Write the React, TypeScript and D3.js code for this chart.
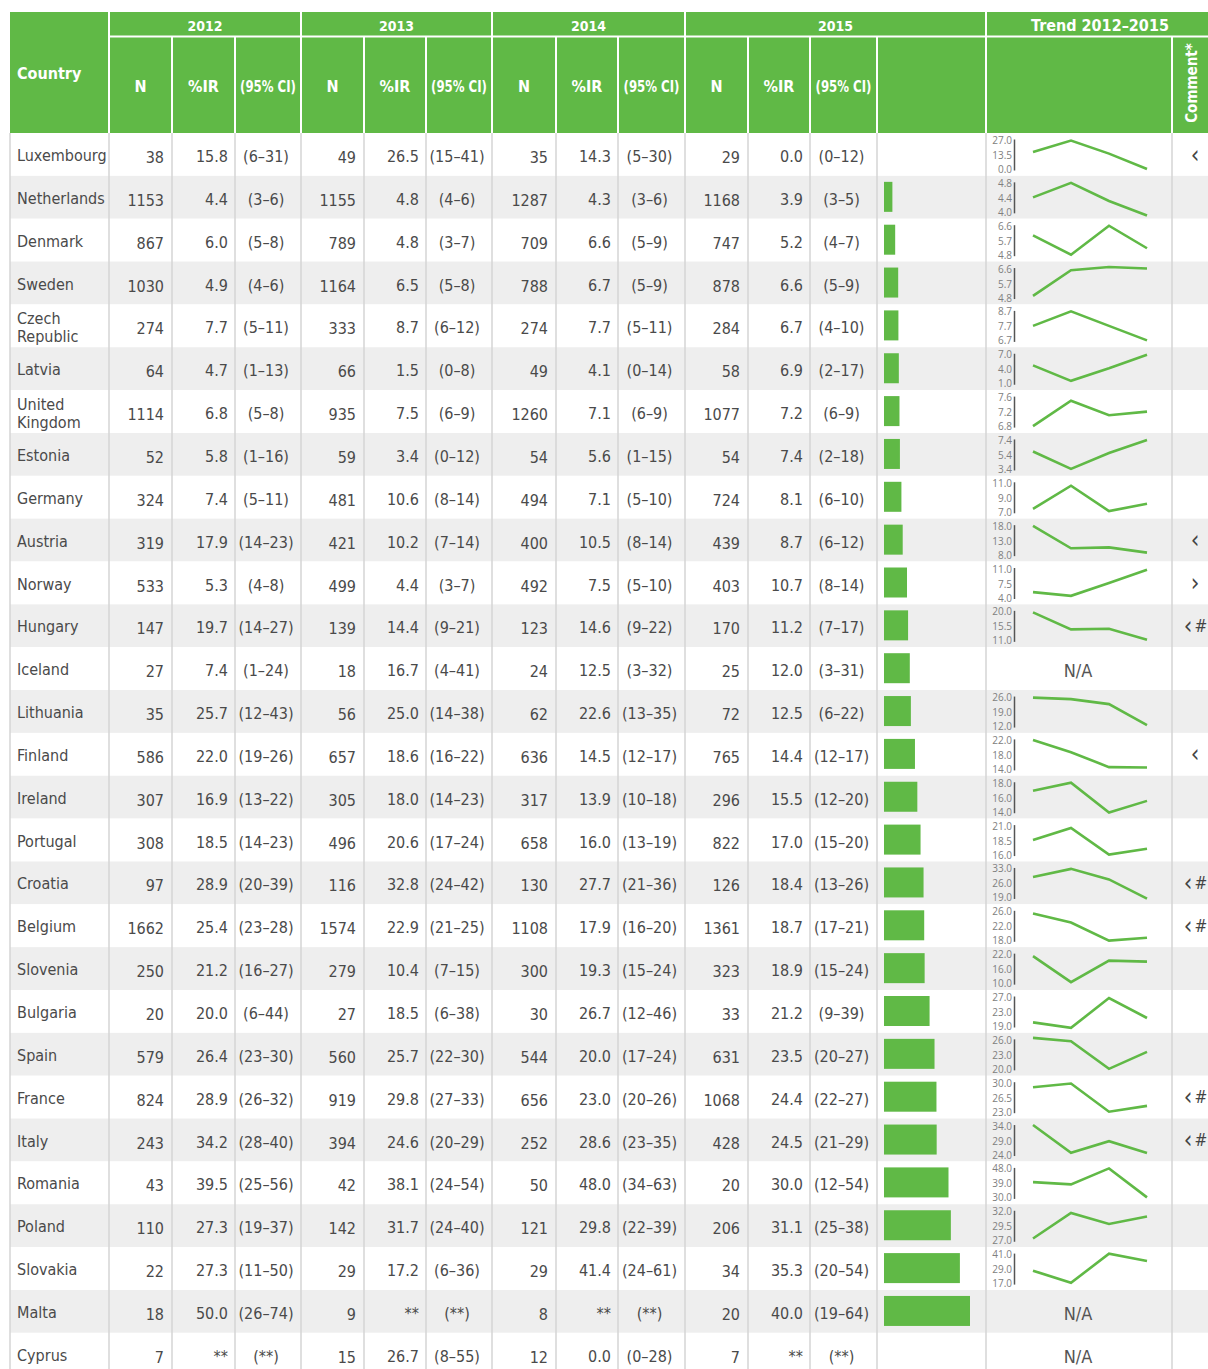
import React from "react"
import * as d3 from "d3"

const countries = ["Luxembourg", "Netherlands", "Denmark", "Sweden", "Czech Republic", "Latvia", "United Kingdom", "Estonia", "Germany", "Austria", "Norway", "Hungary", "Iceland", "Lithuania", "Finland", "Ireland", "Portugal", "Croatia", "Belgium", "Slovenia", "Bulgaria", "Spain", "France", "Italy", "Romania", "Poland", "Slovakia", "Malta", "Cyprus"]
const years = ["2012", "2013", "2014", "2015"]

const n2012 = [38, 1153, 867, 1030, 274, 64, 1114, 52, 324, 319, 533, 147, 27, 35, 586, 307, 308, 97, 1662, 250, 20, 579, 824, 243, 43, 110, 22, 18, 7]
const ir2012 = [15.8, 4.4, 6.0, 4.9, 7.7, 4.7, 6.8, 5.8, 7.4, 17.9, 5.3, 19.7, 7.4, 25.7, 22.0, 16.9, 18.5, 28.9, 25.4, 21.2, 20.0, 26.4, 28.9, 34.2, 39.5, 27.3, 27.3, 50.0, null]
const ci2012 = ["6–31", "3–6", "5–8", "4–6", "5–11", "1–13", "5–8", "1–16", "5–11", "14–23", "4–8", "14–27", "1–24", "12–43", "19–26", "13–22", "14–23", "20–39", "23–28", "16–27", "6–44", "23–30", "26–32", "28–40", "25–56", "19–37", "11–50", "26–74", null]

const n2013 = [49, 1155, 789, 1164, 333, 66, 935, 59, 481, 421, 499, 139, 18, 56, 657, 305, 496, 116, 1574, 279, 27, 560, 919, 394, 42, 142, 29, 9, 15]
const ir2013 = [26.5, 4.8, 4.8, 6.5, 8.7, 1.5, 7.5, 3.4, 10.6, 10.2, 4.4, 14.4, 16.7, 25.0, 18.6, 18.0, 20.6, 32.8, 22.9, 10.4, 18.5, 25.7, 29.8, 24.6, 38.1, 31.7, 17.2, null, 26.7]
const ci2013 = ["15–41", "4–6", "3–7", "5–8", "6–12", "0–8", "6–9", "0–12", "8–14", "7–14", "3–7", "9–21", "4–41", "14–38", "16–22", "14–23", "17–24", "24–42", "21–25", "7–15", "6–38", "22–30", "27–33", "20–29", "24–54", "24–40", "6–36", null, "8–55"]

const n2014 = [35, 1287, 709, 788, 274, 49, 1260, 54, 494, 400, 492, 123, 24, 62, 636, 317, 658, 130, 1108, 300, 30, 544, 656, 252, 50, 121, 29, 8, 12]
const ir2014 = [14.3, 4.3, 6.6, 6.7, 7.7, 4.1, 7.1, 5.6, 7.1, 10.5, 7.5, 14.6, 12.5, 22.6, 14.5, 13.9, 16.0, 27.7, 17.9, 19.3, 26.7, 20.0, 23.0, 28.6, 48.0, 29.8, 41.4, null, 0.0]
const ci2014 = ["5–30", "3–6", "5–9", "5–9", "5–11", "0–14", "6–9", "1–15", "5–10", "8–14", "5–10", "9–22", "3–32", "13–35", "12–17", "10–18", "13–19", "21–36", "16–20", "15–24", "12–46", "17–24", "20–26", "23–35", "34–63", "22–39", "24–61", null, "0–28"]

const n2015 = [29, 1168, 747, 878, 284, 58, 1077, 54, 724, 439, 403, 170, 25, 72, 765, 296, 822, 126, 1361, 323, 33, 631, 1068, 428, 20, 206, 34, 20, 7]
const ir2015 = [0.0, 3.9, 5.2, 6.6, 6.7, 6.9, 7.2, 7.4, 8.1, 8.7, 10.7, 11.2, 12.0, 12.5, 14.4, 15.5, 17.0, 18.4, 18.7, 18.9, 21.2, 23.5, 24.4, 24.5, 30.0, 31.1, 35.3, 40.0, null]
const ci2015 = ["0–12", "3–5", "4–7", "5–9", "4–10", "2–17", "6–9", "2–18", "6–10", "6–12", "8–14", "7–17", "3–31", "6–22", "12–17", "12–20", "15–20", "13–26", "17–21", "15–24", "9–39", "20–27", "22–27", "21–29", "12–54", "25–38", "20–54", "19–64", null]

// trend axis labels: top, middle, bottom (null = N/A)
const trendTicks = [[27.0, 13.5, 0.0], [4.8, 4.4, 4.0], [6.6, 5.7, 4.8], [6.6, 5.7, 4.8], [8.7, 7.7, 6.7], [7.0, 4.0, 1.0], [7.6, 7.2, 6.8], [7.4, 5.4, 3.4], [11.0, 9.0, 7.0], [18.0, 13.0, 8.0], [11.0, 7.5, 4.0], [20.0, 15.5, 11.0], null, [26.0, 19.0, 12.0], [22.0, 18.0, 14.0], [18.0, 16.0, 14.0], [21.0, 18.5, 16.0], [33.0, 26.0, 19.0], [26.0, 22.0, 18.0], [22.0, 16.0, 10.0], [27.0, 23.0, 19.0], [26.0, 23.0, 20.0], [30.0, 26.5, 23.0], [34.0, 29.0, 24.0], [48.0, 39.0, 30.0], [32.0, 29.5, 27.0], [41.0, 29.0, 17.0], null, null]

const comments = ["‹", "", "", "", "", "", "", "", "", "‹", "›", "‹ #", "", "", "‹", "", "", "‹ #", "‹ #", "", "", "", "‹ #", "‹ #", "", "", "", "", ""]

const yearN = [n2012, n2013, n2014, n2015]
const yearIR = [ir2012, ir2013, ir2014, ir2015]
const yearCI = [ci2012, ci2013, ci2014, ci2015]

const GREEN = "#60b946"
const TEXT = "#4a4a4a"
const FONT = "'DejaVu Sans Condensed', sans-serif"

const edges = [10, 109, 172, 235, 301, 364, 426, 492, 556, 618, 685, 748, 810, 877, 986, 1172, 1208]
const headTop = 12
const headMid = 37
const bodyTop = 133
const rowH = 42.85

export default function App() {
    const width = 1208
    const height = 1369

    const barX = d3.scaleLinear().domain([0, 40]).range([0, 86])
    const sparkX = d3.scalePoint().domain(years).range([1033, 1147])

    const fmt = (v: number | null) => v == null ? "**" : v.toFixed(1)

    const header = (
        <g>
            <rect x={edges[0]} y={headTop} width={width - edges[0]} height={bodyTop - headTop} fill={GREEN} />
            <line x1={edges[1]} x2={width} y1={headMid - 0.5} y2={headMid - 0.5} stroke="#fff" strokeWidth={2} />
            {[1, 4, 7, 10, 14].map(i => (
                <line key={"g" + i} x1={edges[i]} x2={edges[i]} y1={headTop} y2={bodyTop} stroke="#fff" strokeWidth={2} />
            ))}
            {[2, 3, 5, 6, 8, 9, 11, 12, 13, 15].map(i => (
                <line key={"s" + i} x1={edges[i]} x2={edges[i]} y1={headMid} y2={bodyTop} stroke="#fff" strokeWidth={2} />
            ))}
            <text x={17} y={73} fill="#fff" fontWeight="bold" fontSize={16} dominantBaseline="central">Country</text>
            {years.map((yr, k) => {
                const x0 = edges[1 + k * 3]
                const x1 = k === 3 ? edges[14] : edges[4 + k * 3]
                return <text key={yr} x={(x0 + x1) / 2} y={26} fill="#fff" fontWeight="bold" fontSize={14}
                    textAnchor="middle" dominantBaseline="central">{yr}</text>
            })}
            {years.map((yr, k) => ["N", "%IR", "(95% CI)"].map((lab, j) => {
                const x0 = edges[1 + k * 3 + j]
                const x1 = edges[2 + k * 3 + j]
                const isCI = lab === "(95% CI)"
                return <text key={yr + lab} x={(x0 + x1) / 2} y={86} fill="#fff" fontWeight="bold"
                    fontSize={16} textAnchor="middle" dominantBaseline="central"
                    textLength={isCI ? 56 : undefined} lengthAdjust={isCI ? "spacingAndGlyphs" : undefined}>{lab}</text>
            }))}
            <text x={(edges[14] + width) / 2 + 3} y={25} fill="#fff" fontWeight="bold" fontSize={16}
                textAnchor="middle" dominantBaseline="central">Trend 2012–2015</text>
            <text transform={`translate(${(edges[15] + width) / 2 + 2},${(headMid + bodyTop) / 2 - 2}) rotate(-90)`}
                fill="#fff" fontWeight="bold" fontSize={15} textAnchor="middle" dominantBaseline="central">Comment*</text>
        </g>
    )

    const rows = countries.map((name, i) => {
        const top = bodyTop + i * rowH
        const cy = top + 23.5
        const cells: React.ReactNode[] = []
        const parts = name.split(" ")
        if (name.length > 12) {
            cells.push(<text key="c1" x={17} y={top + 14} fontSize={16} fill={TEXT} dominantBaseline="central">{parts[0]}</text>)
            cells.push(<text key="c2" x={17} y={top + 32} fontSize={16} fill={TEXT} dominantBaseline="central">{parts.slice(1).join(" ")}</text>)
        } else {
            cells.push(<text key="c" x={17} y={cy - 1} fontSize={16} fill={TEXT} dominantBaseline="central">{name}</text>)
        }
        years.forEach((yr, k) => {
            const nRight = edges[2 + k * 3] - 8
            const irRight = edges[3 + k * 3] - 7
            const ciMid = (edges[3 + k * 3] + edges[4 + k * 3]) / 2 - 2
            const ci = yearCI[k][i]
            cells.push(<text key={"n" + yr} x={nRight} y={cy + 1} fontSize={16} fill={TEXT} textAnchor="end" dominantBaseline="central">{yearN[k][i]}</text>)
            cells.push(<text key={"ir" + yr} x={irRight} y={cy} fontSize={16} fill={TEXT} textAnchor="end" dominantBaseline="central">{fmt(yearIR[k][i])}</text>)
            cells.push(<text key={"ci" + yr} x={ciMid} y={cy} fontSize={16} fill={TEXT} textAnchor="middle" dominantBaseline="central">{ci == null ? "(**)" : `(${ci})`}</text>)
        })

        const v2015 = ir2015[i]
        if (v2015 != null && v2015 > 0) {
            cells.push(<rect key="bar" x={884} y={top + 6} width={barX(v2015)} height={30} fill={GREEN} />)
        }

        const ticks = trendTicks[i]
        if (ticks) {
            const y = d3.scaleLinear().domain([ticks[2], ticks[0]]).range([top + 36, top + 7])
            const vals = [ir2012[i], ir2013[i], ir2014[i], ir2015[i]]
            const line = d3.line<number>()
                .x((_, j) => sparkX(years[j]) as number)
                .y(d => y(d))
            cells.push(<line key="ax" x1={1014.5} x2={1014.5} y1={top + 6.5} y2={top + 37.5} stroke="#555" strokeWidth={1.5} />)
            ticks.forEach((t, j) => {
                cells.push(<text key={"t" + j} x={1012} y={[top + 7, top + 22, top + 36][j]} fontSize={10}
                    fontFamily="'Open Sans', sans-serif" fill="#808080" textAnchor="end" dominantBaseline="central">{t.toFixed(1)}</text>)
            })
            cells.push(<path key="sp" d={line(vals as number[]) || ""} fill="none" stroke={GREEN} strokeWidth={2.6} strokeLinejoin="miter" />)
        } else {
            cells.push(<text key="na" x={(edges[14] + edges[15]) / 2 - 1} y={cy} fontSize={18} fill="#555"
                textAnchor="middle" dominantBaseline="central">N/A</text>)
        }

        if (comments[i]) {
            const marks = comments[i].split(" ")
            const xs = marks.length > 1 ? [1188, 1201] : [1195]
            marks.forEach((m, j) => {
                cells.push(<text key={"cm" + j} x={xs[j]} y={cy - 2} fontSize={m === "#" ? 17 : 24} fill="#444"
                    textAnchor="middle" dominantBaseline="central">{m}</text>)
            })
        }

        return (
            <g key={name}>
                <rect x={edges[0]} y={top} width={width - edges[0]} height={rowH} fill={i % 2 === 1 ? "#eeeeee" : "#ffffff"} />
                {cells}
            </g>
        )
    })

    const gridLines = edges.slice(0, 16).map((x, i) => (
        <line key={"v" + i} x1={x} x2={x} y1={bodyTop} y2={height} stroke="#d4d4d4" strokeWidth={1.5} />
    ))

    return (
        <svg width={width} height={height} style={{ position: "absolute", left: 0, top: 0, background: "#fff" }}
            fontFamily={FONT}>
            <rect width={width} height={height} fill="#fff" />
            {rows}
            {gridLines}
            {header}
        </svg>
    )
}
